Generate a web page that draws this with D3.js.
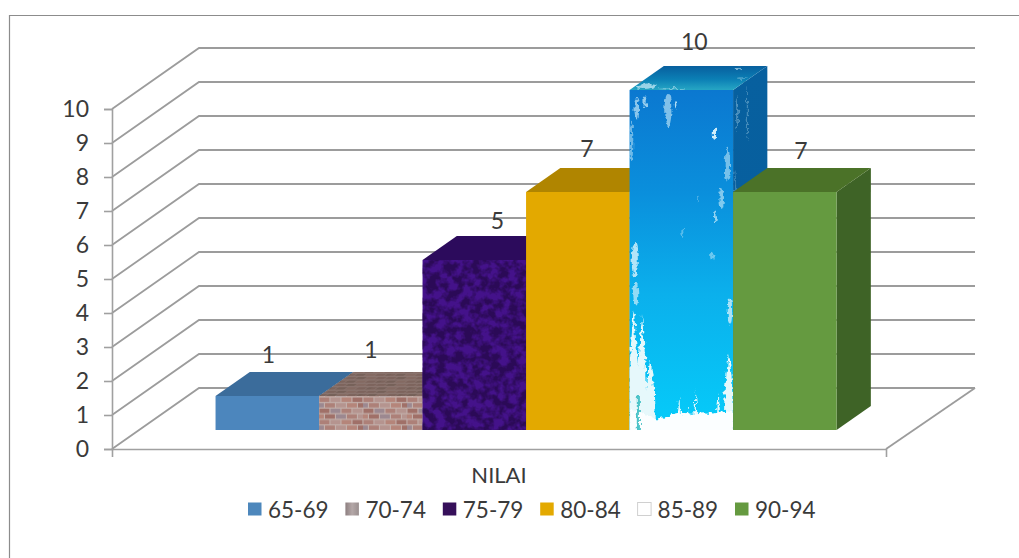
<!DOCTYPE html>
<html>
<head>
<meta charset="utf-8">
<script src="https://cdn.jsdelivr.net/npm/d3@7/dist/d3.min.js"></script>
<style>
  html, body { margin: 0; padding: 0; background: #fff; }
  svg { display: block; }
  text { font-family: Lato, "Open Sans", sans-serif; fill: #3a3a3a; }
  .axis path, .axis line { stroke: #a0a0a0; stroke-width: 1.6; fill: none; }
  .axis text { font-size: 23px; fill: #3a3a3a; font-family: Lato, sans-serif; }
</style>
</head>
<body>
<svg id="chart" width="1019" height="558"></svg>
<script>
// Series of the clustered 3-D column chart
const category = "NILAI";
const seriesNames = ["65-69", "70-74", "75-79", "80-84", "85-89", "90-94"];
const seriesValues = [1, 1, 5, 7, 10, 7];
const valueTicks = [0, 1, 2, 3, 4, 5, 6, 7, 8, 9, 10];

// Hand-placed data labels, offset from the centre of each column's top edge
const labelNudgeX = [1, 0, 23, 9, 13, 16];
const labelNudgeY = [-42, -47, -40, -44, -49, -42];

// Face colours per series: front, top, side
const faceFront = ["#4c86bd", "url(#brickFront)", "#44128a", "#e3a900", "url(#waterFront)", "#659a40"];
const faceTop = ["#3b6c9b", "url(#brickTop)", "#2c0b5c", "#b08500", "url(#waterTop)", "#4b7228"];
const faceSide = ["#33608c", "#7a615a", "#2c0b5c", "#9c7600", "url(#waterSide)", "#3e6326"];
const swatchFill = ["#4d87bc", "url(#swatchGrey)", "#36105a", "#e3a900", "#ffffff", "#659a40"];

// Droplet streaks on the water texture, in unit coordinates of a face: u, v, radius u, radius v, opacity
const frontStreaks = [
  [.07, .055, .022, .032, .65], [.15, .035, .016, .016, .7], [.37, .06, .035, .048, .6],
  [.44, .045, .012, .012, .85], [.82, .13, .016, .016, 1], [.945, .22, .026, .05, .55],
  [.89, .32, .022, .03, .6], [.83, .375, .014, .018, .7], [.05, .5, .03, .05, .85],
  [.06, .6, .024, .035, .7], [.8, .49, .012, .012, .5], [.66, .32, .008, .01, .4],
  [.51, .42, .01, .012, .4], [.97, .65, .022, .04, .8], [.02, .15, .016, .06, .5]
];
const sideStreaks = [
  [.12, .08, .03, .05, .35], [.42, .1, .02, .08, .3], [.06, .3, .03, .06, .25]
];
const topStreaks = [
  [.12, .86, .09, .1, .7], [.4, .95, .14, .03, .5], [.75, .12, .03, .05, .6], [.93, .5, .05, .04, .3]
];
// Mist spikes rising from the foot of the fall: centre u, half width u, top v
const mistSpikes = [
  [.04, .06, .645], [.12, .055, .66], [.2, .06, .79], [.48, .016, .9],
  [.64, .016, .88], [.57, .012, .92], [.86, .018, .89], [.96, .055, .77], [.95, .035, .87]
];
// Outline of the foam pool along the bottom of the fall: u, v
const foamEdge = [
  [0, .94], [.15, .95], [.26, .975], [.36, .96], [.48, .945], [.6, .955], [.72, .945],
  [.82, .955], [.92, .94], [1, .945]
];

const svg = d3.select("#chart");
const defs = svg.append("defs");

// Chart border: only the top and left edges fall inside the frame
svg.append("path").attr("d", "M9.5,558V15.5H1019").attr("fill", "none").attr("stroke", "#8c8c8c").attr("stroke-width", 1.2);

// Oblique projection of the plot box
const wallDX = 87, wallDY = 61;      // front-to-back shift of floor and walls
const backRightX = 975;
const depthStart = 0.311, depthEnd = 0.705;   // column footprint within the floor depth
const y = d3.scaleLinear().domain([0, 10]).range([449, 109]);
const xCategory = d3.scaleBand().domain([category]).range([112, 886]);
const xSeries = d3.scaleBand().domain(seriesNames).range([112, 886]).paddingInner(0).paddingOuter(0.739);
const project = (x, value, depth) => [x + wallDX * depth, y(value) - wallDY * depth];

// Wall and floor gridlines
const grid = svg.append("g").attr("fill", "none").attr("stroke", "#9c9c9c");
grid.selectAll("path").data(valueTicks).join("path")
  .attr("stroke-width", 1.8)
  .attr("d", v => {
    const back = project(112, v, 1);
    return d3.line()([project(112, v, 0), back, [backRightX, back[1]]]);
  });
grid.append("path").attr("stroke-width", 1.8)
  .attr("d", d3.line()([project(886, 0, 0), [backRightX, project(886, 0, 1)[1]]]));

// Axes on the front edges of the plot box
svg.append("g").attr("class", "axis").attr("transform", "translate(112,0)")
  .call(d3.axisLeft(y).tickValues(valueTicks).tickSize(8).tickPadding(15).tickFormat(d3.format("d")));
const xAxis = svg.append("g").attr("class", "axis").attr("transform", "translate(0,449)")
  .call(d3.axisBottom(xCategory).tickSizeInner(0).tickSizeOuter(8).tickPadding(18));
xAxis.selectAll(".tick line").remove();
xAxis.selectAll("text").style("font-size", "22px");

// Gradient and pattern textures
function gradient(id, stops, x2, y2) {
  const g = defs.append("linearGradient").attr("id", id)
    .attr("x1", 0).attr("y1", 0).attr("x2", x2).attr("y2", y2);
  stops.forEach(([o, c]) => g.append("stop").attr("offset", o).attr("stop-color", c));
}
gradient("waterFront", [[0, "#0b78d0"], [.3, "#0a8fdc"], [.6, "#0bb0ec"], [1, "#05ccfa"]], 0, 1);
gradient("waterSide", [[0, "#07609f"], [.4, "#075f9e"], [1, "#0a76b8"]], 0, 1);
gradient("waterTop", [[0, "#085f9e"], [.55, "#0b7fb5"], [1, "#26a6c4"]], 0, 1);
gradient("swatchGrey", [[0, "#8d7f80"], [.5, "#b4a8a8"], [1, "#9a8f8f"]], 1, 0);

function brickPattern(id, transform, mortar, bricks, w, h) {
  const p = defs.append("pattern").attr("id", id).attr("patternUnits", "userSpaceOnUse")
    .attr("width", w * 4).attr("height", h * 4).attr("patternTransform", transform);
  p.append("rect").attr("width", w * 4).attr("height", h * 4).attr("fill", mortar);
  d3.range(4).forEach(row => d3.range(5).forEach(col => {
    p.append("rect")
      .attr("x", col * w - (row % 2 ? w / 2 : 0) + .5).attr("y", row * h + .5)
      .attr("width", w - 1.1).attr("height", h - 1.2)
      .attr("fill", bricks[(row * 3 + col * 2) % bricks.length]);
  }));
}
brickPattern("brickFront", "translate(319,397)", "#c2afaa", ["#ad8078", "#a07068", "#b5948f", "#9c8890", "#b5857a"], 11, 5.6);
brickPattern("brickTop", "translate(319,397) skewX(-55)", "#8a746e", ["#7d645d", "#846a62", "#766159"], 10, 3.4);

// Mottled grain for the purple column
const marble = defs.append("filter").attr("id", "marble")
  .attr("color-interpolation-filters", "sRGB")
  .attr("x", 0).attr("y", 0).attr("width", 1).attr("height", 1);
marble.append("feTurbulence").attr("type", "fractalNoise").attr("baseFrequency", .11)
  .attr("numOctaves", 3).attr("seed", 7).attr("result", "n");
marble.append("feColorMatrix").attr("in", "n").attr("type", "matrix")
  .attr("values", "0 0 0 0 .17  0 0 0 0 .04  0 0 0 0 .34  3.6 0 0 0 -1.3").attr("result", "dark");
marble.append("feComposite").attr("in", "dark").attr("in2", "SourceGraphic").attr("operator", "in").attr("result", "spots");
const mm = marble.append("feMerge");
mm.append("feMergeNode").attr("in", "SourceGraphic");
mm.append("feMergeNode").attr("in", "spots");

// Roughened, slightly soft edges for droplets and foam
const rough = defs.append("filter").attr("id", "rough")
  .attr("color-interpolation-filters", "sRGB")
  .attr("x", "-5%").attr("y", "-5%").attr("width", "110%").attr("height", "110%");
rough.append("feTurbulence").attr("type", "fractalNoise").attr("baseFrequency", .22)
  .attr("numOctaves", 2).attr("seed", 3).attr("result", "n");
rough.append("feDisplacementMap").attr("in", "SourceGraphic").attr("in2", "n")
  .attr("scale", 7).attr("xChannelSelector", "R").attr("yChannelSelector", "G").attr("result", "d");
rough.append("feGaussianBlur").attr("in", "d").attr("stdDeviation", .5);

// Soft rendering of the brick courses
defs.append("filter").attr("id", "softBrick")
  .attr("color-interpolation-filters", "sRGB")
  .attr("x", 0).attr("y", 0).attr("width", 1).attr("height", 1)
  .append("feGaussianBlur").attr("stdDeviation", .5);

// Paints droplets on a parallelogram face described by origin and edge vectors
function paintStreaks(parent, id, corners, list) {
  const [o, a, b] = corners;
  defs.append("clipPath").attr("id", id).append("polygon")
    .attr("points", [o, [o[0] + a[0], o[1] + a[1]], [o[0] + a[0] + b[0], o[1] + a[1] + b[1]], [o[0] + b[0], o[1] + b[1]]].join(" "));
  const outer = parent.append("g").attr("clip-path", `url(#${id})`).append("g").attr("filter", "url(#rough)");
  const inner = outer.append("g").attr("transform", `matrix(${a[0]},${a[1]},${b[0]},${b[1]},${o[0]},${o[1]})`);
  inner.selectAll("ellipse").data(list).join("ellipse")
    .attr("cx", d => d[0]).attr("cy", d => d[1]).attr("rx", d => d[2]).attr("ry", d => d[3])
    .attr("fill", "#cfeefa").attr("opacity", d => d[4]);
  return inner;
}

// Columns, painted left to right so each one overlaps its neighbour's side
const bars = svg.append("g");
seriesNames.forEach((name, i) => {
  const v = seriesValues[i];
  const x0 = xSeries(name), x1 = x0 + xSeries.bandwidth();
  const ftl = project(x0, v, depthStart), ftr = project(x1, v, depthStart);
  const fbl = project(x0, 0, depthStart), fbr = project(x1, 0, depthStart);
  const btl = project(x0, v, depthEnd), btr = project(x1, v, depthEnd);
  const bbr = project(x1, 0, depthEnd);
  const g = bars.append("g");
  const poly = (pts, fill) => g.append("polygon").attr("points", pts.join(" ")).attr("fill", fill);

  poly([ftr, btr, bbr, fbr], faceSide[i]);
  const top = poly([ftl, btl, btr, ftr], faceTop[i]);
  const front = poly([ftl, ftr, fbr, fbl], faceFront[i]);
  if (name === "70-74") {
    front.attr("filter", "url(#softBrick)");
    top.attr("filter", "url(#softBrick)");
  }
  if (name === "75-79") {
    front.attr("filter", "url(#marble)");
  }
  if (name === "85-89") {
    const w = ftr[0] - ftl[0], h = fbl[1] - ftl[1];
    const dx = btl[0] - ftl[0], dy = btl[1] - ftl[1];
    paintStreaks(g, "sideClip", [ftr, [dx, dy], [0, h]], sideStreaks);
    paintStreaks(g, "topClip", [btl, [w, 0], [-dx, -dy]], topStreaks);
    const face = paintStreaks(g, "frontClip", [ftl, [w, 0], [0, h]], frontStreaks);
    // Mist and foam along the bottom of the fall
    const spikes = face.append("g").attr("fill", "#e6f8fb");
    spikes.selectAll("path").data(mistSpikes).join("path")
      .attr("d", ([c, hw, top]) => `M${c - hw},1.02L${c - hw * .75},${(1 + top) / 2}L${c},${top}L${c + hw * .75},${(1 + top) / 2}L${c + hw},1.02Z`);
    face.append("path").attr("fill", "#fbfeff")
      .attr("d", d3.area().x(d => d[0]).y0(1.03).y1(d => d[1]).curve(d3.curveBasis)(foamEdge));
    face.append("rect").attr("x", .07).attr("y", .9).attr("width", .03).attr("height", .12).attr("fill", "#4cc3c8");
  }
});

// Data labels
svg.append("g").selectAll("text").data(seriesNames).join("text")
  .attr("x", (d, i) => xSeries(d) + xSeries.bandwidth() / 2 + wallDX * depthStart + labelNudgeX[i])
  .attr("y", (d, i) => project(0, seriesValues[i], depthStart)[1] + labelNudgeY[i])
  .attr("text-anchor", "middle").attr("dominant-baseline", "central")
  .attr("font-size", 23)
  .text((d, i) => seriesValues[i]);

// Legend row
const legendX = d3.scalePoint().domain(seriesNames).range([248, 735]);
const legend = svg.append("g").selectAll("g").data(seriesNames).join("g")
  .attr("transform", d => `translate(${legendX(d)},502.5)`);
legend.append("rect").attr("width", 13.5).attr("height", 13)
  .attr("fill", (d, i) => swatchFill[i])
  .attr("stroke", (d, i) => d === "85-89" ? "#d0d0d0" : "none");
legend.append("text").attr("x", 20).attr("y", 6.5).attr("dominant-baseline", "central")
  .attr("font-size", 22.5).text(d => d);
</script>
</body>
</html>
